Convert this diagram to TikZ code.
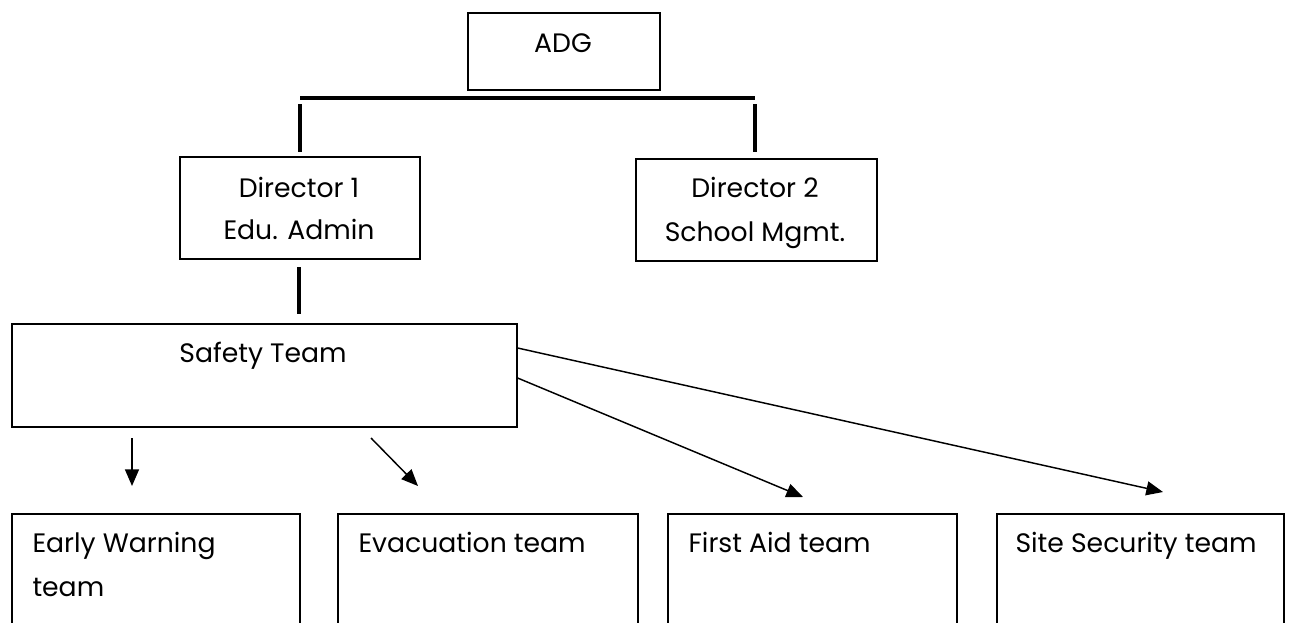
\documentclass[tikz,border=0pt]{standalone}
\usepackage{fontspec}
\setmainfont{Poppins}
\usetikzlibrary{arrows.meta}

\tikzset{every picture/.style={line width=0.75pt}}
\tikzset{
  box/.style={draw, rectangle, line width=1.2pt, inner sep=0pt, anchor=north west},
  txt/.style={inner sep=0pt, anchor=base, font=\fontsize{20}{24}\selectfont},
  ltxt/.style={txt, anchor=base west},
  bar/.style={line width=3pt},
  arr/.style={line width=1.1pt, -{Triangle[length=12.5pt,width=10.5pt]}}
}

\begin{document}
\begin{tikzpicture}[x=0.75pt,y=0.75pt,yscale=-1,xscale=1]
%set diagram size 1291 x 622
\useasboundingbox (0,0) rectangle (1291,622);
\clip (0,0) rectangle (1291,622);

%Shape: Rectangle [id:adg]
\node[box, minimum width=144pt, minimum height=57.75pt] (adg) at (467,12) {};
%Shape: Rectangle [id:dir1]
\node[box, minimum width=180pt, minimum height=76.5pt] (dir1) at (179,156) {};
%Shape: Rectangle [id:dir2]
\node[box, minimum width=180.75pt, minimum height=76.5pt] (dir2) at (635,158) {};
%Shape: Rectangle [id:safety]
\node[box, minimum width=378.75pt, minimum height=77.25pt] (safety) at (11,323) {};
%Shape: Rectangle [id:bottom row]
\node[box, minimum width=216pt, minimum height=105pt] (early) at (11,513) {};
\node[box, minimum width=225pt, minimum height=105pt] (evac) at (337,513) {};
\node[box, minimum width=216.75pt, minimum height=105pt] (firstaid) at (667,513) {};
\node[box, minimum width=215.25pt, minimum height=105pt] (security) at (996,513) {};

% Text Node
\node[txt] (adgT) at (563,52) {ADG};
% Text Node
\node[txt] (dir1T) at (299,197) {Director 1};
\node[txt] (dir1U) at (299,239) {Edu. Admin};
% Text Node
\node[txt] (dir2T) at (755,197) {Director 2};
\node[txt] (dir2U) at (755,241) {School Mgmt.};
% Text Node
\node[txt] (safetyT) at (263,362) {Safety Team};
% Text Node
\node[ltxt] (earlyT) at (32,552) {Early Warning};
\node[ltxt] (earlyU) at (32,596) {team};
\node[ltxt] (evacT) at (358,552) {Evacuation team};
\node[ltxt] (firstaidT) at (688,552) {First Aid team};
\node[ltxt] (securityT) at (1015,552) {Site Security team};

%Straight Lines [id:bars]
\draw[bar] (300,98) -- (755,98);
\draw[bar] (300,104) -- (300,152);
\draw[bar] (755,104) -- (755,152);
\draw[bar] (299,267) -- (299,314);

%Straight Lines [id:arrows]
\coordinate (earlyS) at (132,438);
\coordinate (earlyE) at (132,486);
\coordinate (evacS) at (371,438);
\coordinate (evacE) at (418,486);
\coordinate (firstaidE) at (803,497);
\coordinate (securityE) at (1163,492);
\draw[arr] (earlyS) -- (earlyE);
\draw[arr] (evacS) -- (evacE);
\draw[arr] (safety.east |- 0,378) -- (firstaidE);
\draw[arr] (safety.east |- 0,348) -- (securityE);

\end{tikzpicture}
\end{document}
